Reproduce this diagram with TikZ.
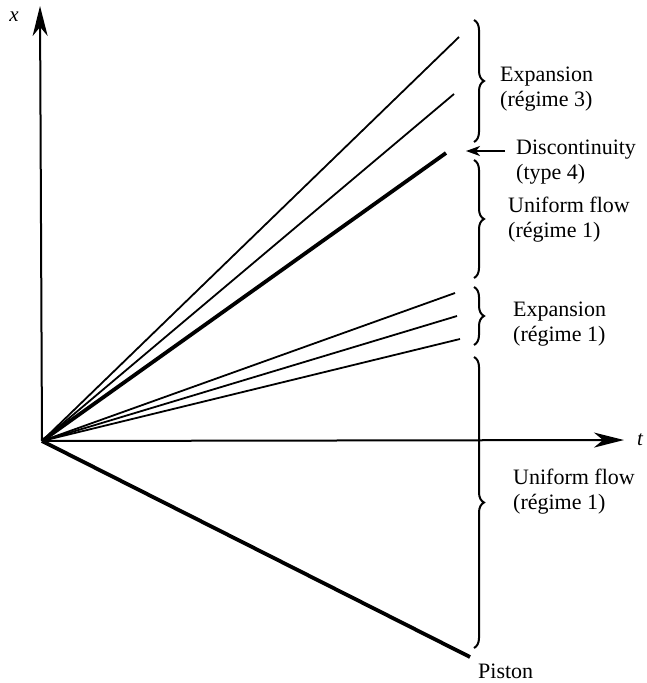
\documentclass[tikz,border=0pt]{standalone}
\usepackage{fontspec}
\setmainfont{Liberation Serif}
\usetikzlibrary{arrows.meta,decorations.pathreplacing}
\begin{document}
\begin{tikzpicture}[x=1pt,y=-1pt,
  thinline/.style={line width=1.8pt},
  thickline/.style={line width=3.8pt},
  axis/.style={line width=2pt,-{Stealth[length=30pt,width=15pt,inset=9pt]}},
  bracestyle/.style={line width=2pt,decorate,decoration={brace,amplitude=10pt}},
  lbl/.style={font=\fontsize{22}{25}\selectfont,align=left,anchor=west,inner sep=0pt},
  axlbl/.style={font=\fontsize{21}{24}\selectfont\itshape,inner sep=0pt}]
\useasboundingbox (0,0) rectangle (646,683);
\coordinate (O) at (42,441);
\coordinate (xend) at (40,6);
\coordinate (tend) at (624,440);
\draw[axis] (O) -- (xend);
\draw[axis] (O) -- (tend);
\node[axlbl] (xl) at (14,17) {x};
\node[axlbl] (tl) at (640,440) {t};
% rays
\coordinate (r1) at (459,37);
\coordinate (r2) at (454,94);
\coordinate (r3) at (446,153);
\coordinate (r4) at (455,293);
\coordinate (r5) at (457,316);
\coordinate (r6) at (460,339);
\coordinate (pist) at (470,657);
\draw[thinline] (O) -- (r1);
\draw[thinline] (O) -- (r2);
\draw[thickline] (O) -- (r3);
\draw[thinline] (O) -- (r4);
\draw[thinline] (O) -- (r5);
\draw[thinline] (O) -- (r6);
\draw[thickline] (O) -- (pist);
% braces
\coordinate (b1a) at (474,20);  \coordinate (b1b) at (474,142);
\coordinate (b2a) at (474,160); \coordinate (b2b) at (474,278);
\coordinate (b3a) at (474,287); \coordinate (b3b) at (474,345);
\coordinate (b4a) at (474,357); \coordinate (b4b) at (474,648);
\draw[bracestyle] (b1a) -- (b1b);
\draw[bracestyle] (b2a) -- (b2b);
\draw[bracestyle] (b3a) -- (b3b);
\draw[bracestyle] (b4a) -- (b4b);
% labels
\node[lbl] (e3) at (500,89) {Expansion\\(régime 3)};
\node[lbl] (disc) at (516,162) {Discontinuity\\(type 4)};
\coordinate (arrtail) at (505,151);
\coordinate (arrtip) at (466,151);
\draw[line width=1.8pt,-{Stealth[length=14pt,width=10pt,inset=4pt]}] (arrtail) -- (arrtip);
\node[lbl] (u1) at (508,220) {Uniform flow\\(régime 1)};
\node[lbl] (e1) at (513,324) {Expansion\\(régime 1)};
\node[lbl] (u2) at (513,492) {Uniform flow\\(régime 1)};
\node[lbl] (pl) at (478,671) {Piston};
\end{tikzpicture}
\end{document}
